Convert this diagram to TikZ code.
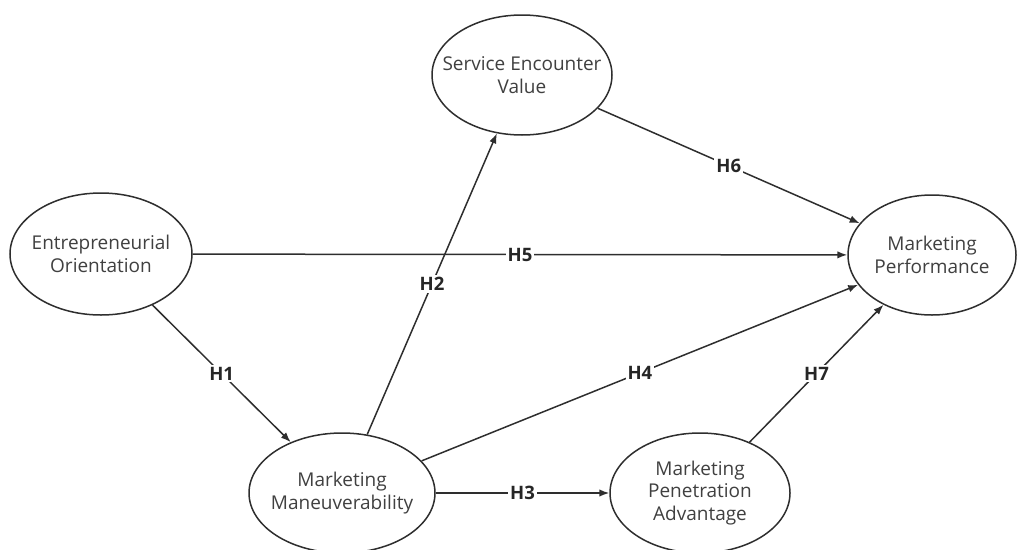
\documentclass[tikz,border=0pt]{standalone}
\usepackage{fontspec}
\setmainfont{Open Sans}
\usetikzlibrary{shapes.geometric,arrows.meta}
\definecolor{strokegray}{HTML}{2E2E2E}
\definecolor{textgray}{HTML}{404040}
\begin{document}
\begin{tikzpicture}[x=1pt,y=-1pt,
  construct/.style={ellipse, draw=strokegray, line width=1.5pt, fill=white, inner sep=0pt},
  caption/.style={align=center, text=textgray, font=\fontsize{19}{22.5}\selectfont},
  link/.style={draw=strokegray, line width=1.5pt, -{Latex[length=10pt,width=7.5pt]}},
  hyp/.style={fill=white, inner sep=2pt, text=black!85, font=\bfseries\fontsize{18.5}{20}\selectfont}
]
\useasboundingbox (0,0) rectangle (1017,549);

% constructs
\node[construct, minimum width=182pt, minimum height=122pt,
  label={[caption]center:Entrepreneurial\\Orientation}] (eo) at (101,254) {};
\node[construct, minimum width=180pt, minimum height=120pt,
  label={[caption]center:Service Encounter\\Value}] (sev) at (522,75) {};
\node[construct, minimum width=168pt, minimum height=120pt,
  label={[caption]center:Marketing\\Performance}] (mp) at (932,255) {};
\node[construct, minimum width=186pt, minimum height=120pt,
  label={[caption]center:Marketing\\Maneuverability}] (mm) at (342,493) {};
\node[construct, minimum width=180pt, minimum height=120pt,
  label={[caption]center:Marketing\\Penetration\\Advantage}] (mpa) at (700,493) {};

% hypothesised paths
\draw[link] (eo) -- node[hyp] {H1} (mm);
\draw[link] (mm) -- node[hyp] {H2} (sev);
\draw[link] (mm) -- node[hyp] {H3} (mpa);
\draw[link] (mm) -- node[hyp] {H4} (mp);
\draw[link] (eo) -- node[hyp] {H5} (mp);
\draw[link] (sev) -- node[hyp] {H6} (mp);
\draw[link] (mpa) -- node[hyp] {H7} (mp);
\end{tikzpicture}
\end{document}
